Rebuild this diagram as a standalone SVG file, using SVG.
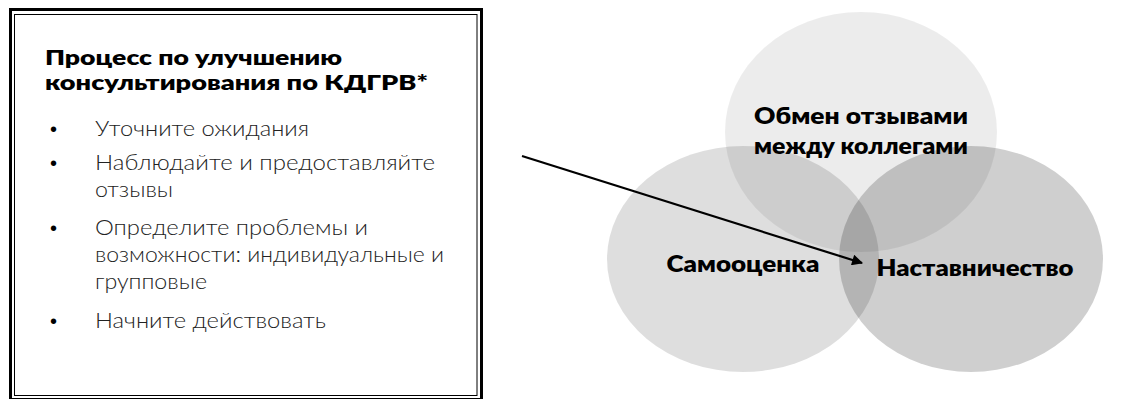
<svg xmlns="http://www.w3.org/2000/svg" width="1124" height="399" viewBox="0 0 1124 399">
  <defs>
    <style>
      .title { font-family: Lato, "Open Sans", sans-serif; font-weight: 800; font-size: 21px; fill: #000; }
      .body { font-family: Lato, "Open Sans", sans-serif; font-weight: 300; font-size: 21px; fill: #222; }
      .bullet { font-family: "Liberation Sans", sans-serif; font-size: 20px; fill: #000; }
      .venn { fill: #000; }
      .label { font-family: Lato, "Open Sans", sans-serif; font-weight: 800; font-size: 22px; fill: #000; text-anchor: middle; }
      .frame-outer { fill: none; stroke: #000; stroke-width: 3; }
      .frame-inner { fill: none; stroke: #000; stroke-width: 1; }
      .connector { stroke: #000; stroke-width: 2.2; fill: none; }
    </style>
    <marker id="arrowhead" viewBox="0 0 10 10" refX="9" refY="5" markerWidth="6.5" markerHeight="5" orient="auto" markerUnits="strokeWidth">
      <path d="M0,0 L10,5 L0,10 Z" fill="#000"/>
    </marker>
  </defs>

  <rect width="1124" height="399" fill="#fff"/>

  <!-- Text panel with double frame -->
  <g id="process-panel">
    <rect class="frame-outer" x="10.5" y="9.5" width="471" height="390"/>
    <rect class="frame-inner" x="14.5" y="14.5" width="462.5" height="381"/>
    <text class="title" x="45" y="65" textLength="297" lengthAdjust="spacingAndGlyphs">Процесс по улучшению</text>
    <text class="title" x="45" y="90" textLength="383" lengthAdjust="spacingAndGlyphs">консультирования по КДГРВ*</text>
    <text class="bullet" x="50" y="136">•</text>
    <text class="body" x="95" y="136" textLength="214" lengthAdjust="spacingAndGlyphs">Уточните ожидания</text>
    <text class="bullet" x="50" y="170">•</text>
    <text class="body" x="95" y="170" textLength="340" lengthAdjust="spacingAndGlyphs">Наблюдайте и предоставляйте</text>
    <text class="body" x="95" y="197" textLength="78" lengthAdjust="spacingAndGlyphs">отзывы</text>
    <text class="bullet" x="50" y="235">•</text>
    <text class="body" x="95" y="235" textLength="273" lengthAdjust="spacingAndGlyphs">Определите проблемы и</text>
    <text class="body" x="95" y="262" textLength="349" lengthAdjust="spacingAndGlyphs">возможности: индивидуальные и</text>
    <text class="body" x="95" y="289" textLength="112" lengthAdjust="spacingAndGlyphs">групповые</text>
    <text class="bullet" x="50" y="328">•</text>
    <text class="body" x="95" y="328" textLength="231" lengthAdjust="spacingAndGlyphs">Начните действовать</text>
  </g>

  <!-- Venn diagram -->
  <g id="peer-feedback">
    <ellipse class="venn" cx="861" cy="132" rx="136" ry="120" fill-opacity="0.075"/>
  </g>
  <g id="self-assessment">
    <ellipse class="venn" cx="743" cy="259" rx="136" ry="113" fill-opacity="0.13"/>
  </g>
  <g id="mentoring">
    <ellipse class="venn" cx="971" cy="259" rx="132" ry="113" fill-opacity="0.19"/>
  </g>

  <g id="venn-labels">
    <text class="label" x="861" y="124" textLength="214" lengthAdjust="spacingAndGlyphs">Обмен отзывами</text>
    <text class="label" x="861" y="154" textLength="214" lengthAdjust="spacingAndGlyphs">между коллегами</text>
    <text class="label" x="743" y="272" textLength="153" lengthAdjust="spacingAndGlyphs">Самооценка</text>
    <text class="label" x="975" y="276" textLength="197" lengthAdjust="spacingAndGlyphs">Наставничество</text>
  </g>

  <g id="connectors">
    <line class="connector" x1="522" y1="156" x2="862" y2="263" marker-end="url(#arrowhead)"/>
  </g>
</svg>
